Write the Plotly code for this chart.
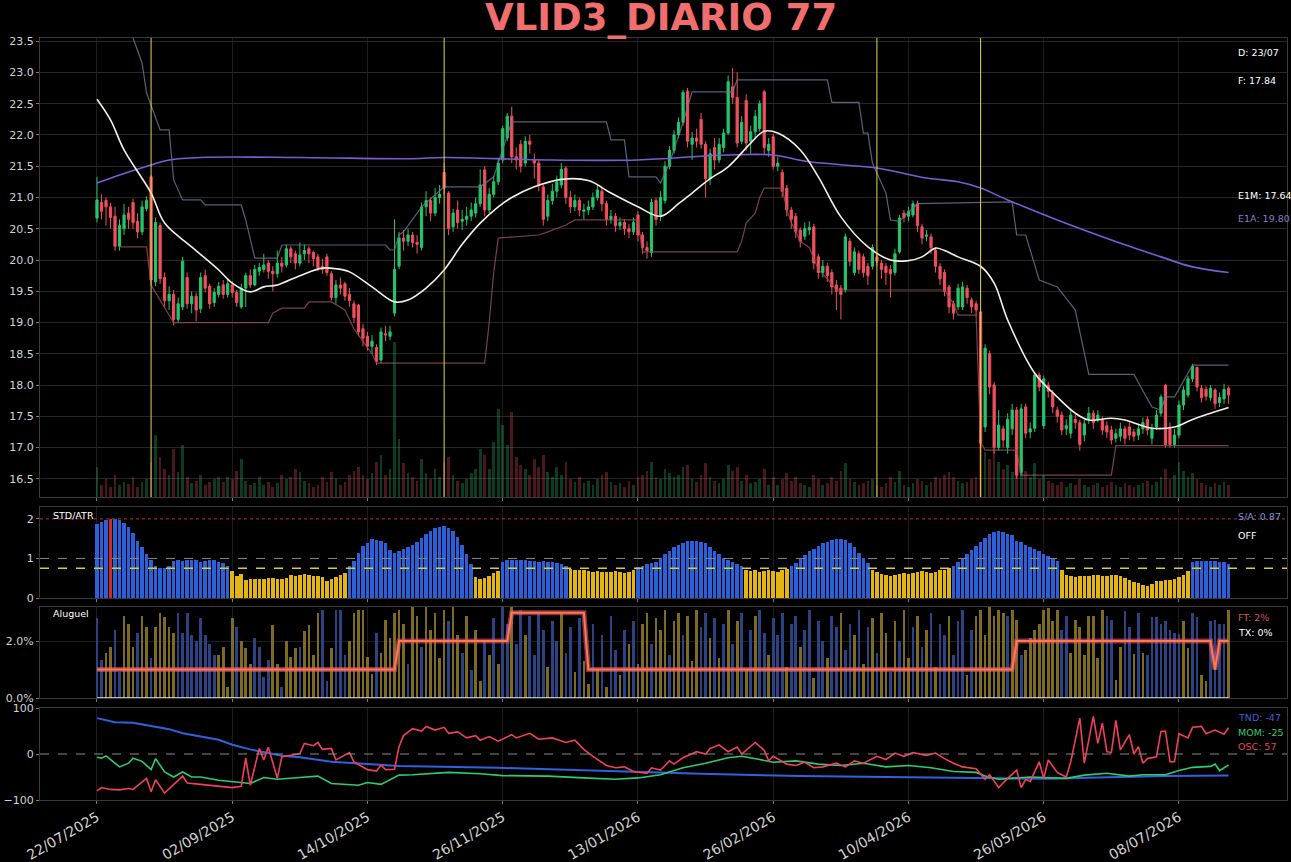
import plotly.graph_objects as go

# ---------------- DATA ----------------
tick_idx = [0, 30, 60, 90, 120, 150, 180, 210, 240]
tick_dates = ["22/07/2025", "02/09/2025", "14/10/2025", "26/11/2025", "13/01/2026",
              "26/02/2026", "10/04/2026", "26/05/2026", "08/07/2026"]

opens = [
    20.67, 20.92, 20.95, 20.85, 20.70, 20.22, 20.50, 20.75, 20.92, 20.62,
    20.45, 20.82, 21.33, 19.65, 20.55, 19.72, 19.35, 19.45, 19.05, 19.25,
    19.72, 19.30, 19.42, 19.22, 19.75, 19.58, 19.32, 19.45, 19.60, 19.45,
    19.60, 19.48, 19.25, 19.55, 19.75, 19.60, 19.82, 19.85, 19.95, 19.82,
    19.78, 19.95, 19.92, 20.18, 20.10, 19.95, 20.10, 20.18, 20.12, 20.05,
    19.90, 20.05, 19.78, 19.40, 19.60, 19.62, 19.45, 19.30, 19.28, 18.90,
    18.78, 18.62, 18.60, 18.40, 18.82, 18.78, 19.15, 19.90, 20.35, 20.30,
    20.40, 20.28, 20.20, 20.85, 20.95, 20.75, 21.00, 21.40, 21.07, 20.53,
    20.80, 20.62, 20.65, 20.70, 20.75, 20.90, 21.44, 20.80, 21.05, 21.25,
    21.60, 21.95, 22.30, 21.65, 21.85, 21.55, 21.90, 21.60, 21.55, 21.17,
    20.70, 20.95, 21.10, 21.20, 21.47, 21.00, 20.85, 20.95, 20.78, 20.80,
    20.85, 21.00, 21.10, 20.90, 20.65, 20.70, 20.55, 20.60, 20.50, 20.45,
    20.72, 20.40, 20.20, 20.12, 20.95, 20.70, 20.95, 21.50, 21.75, 22.00,
    22.20, 22.70, 21.85, 21.95, 22.25, 21.85, 21.30, 21.80, 21.60, 21.80,
    22.03, 22.77, 22.60, 21.90, 22.55, 21.90, 22.05, 22.10, 22.69, 21.75,
    21.97, 21.50, 21.40, 21.15, 20.80, 20.70, 20.48, 20.38, 20.48, 20.53,
    20.05, 19.80, 19.90, 19.80, 19.60, 19.55, 19.52, 20.30, 19.80, 20.10,
    20.05, 19.90, 19.90, 20.05, 19.95, 19.90, 19.85, 19.80, 20.13, 20.75,
    20.70, 20.72, 20.90, 20.53, 20.38, 20.37, 20.16, 19.90, 19.80, 19.57,
    19.30, 19.25, 19.25, 19.55, 19.36, 19.30, 19.17, 17.33, 18.50, 18.00,
    17.00, 17.30, 17.00, 17.30, 17.60, 16.60, 17.65, 17.25, 17.31, 18.16,
    17.35, 18.00, 17.87, 17.60, 17.52, 17.30, 17.23, 17.45, 17.40, 17.20,
    17.45, 17.55, 17.45, 17.44, 17.35, 17.28, 17.15, 17.18, 17.30, 17.33,
    17.25, 17.20, 17.30, 17.45, 17.15, 17.33, 17.55, 18.00, 17.30, 17.05,
    17.20, 17.68, 17.84, 18.10, 18.28, 17.95, 17.93, 17.80, 17.92, 17.72,
    17.78, 17.95]

closes = [
    20.96, 20.78, 20.85, 20.68, 20.22, 20.55, 20.72, 20.65, 20.60, 20.45,
    20.85, 20.95, 19.68, 20.60, 19.70, 19.35, 19.45, 19.05, 19.30, 19.98,
    19.30, 19.42, 19.20, 19.72, 19.55, 19.30, 19.48, 19.58, 19.45, 19.62,
    19.48, 19.32, 19.55, 19.75, 19.60, 19.85, 19.88, 19.92, 19.82, 19.78,
    19.95, 19.90, 20.18, 20.05, 19.95, 20.08, 20.15, 20.10, 20.02, 19.88,
    19.85, 19.80, 19.40, 19.60, 19.55, 19.42, 19.35, 19.08, 18.85, 18.75,
    18.62, 18.70, 18.38, 18.85, 18.80, 18.85, 19.85, 20.35, 20.30, 20.40,
    20.28, 20.25, 20.85, 20.95, 20.75, 21.00, 21.05, 21.15, 20.50, 20.75,
    20.60, 20.65, 20.70, 20.80, 20.90, 21.20, 20.80, 21.05, 21.25, 21.55,
    22.10, 22.30, 21.65, 21.60, 21.50, 21.90, 21.85, 21.55, 21.20, 20.65,
    20.95, 21.10, 21.25, 21.45, 21.00, 20.85, 20.95, 20.80, 20.80, 20.85,
    21.00, 21.12, 20.90, 20.65, 20.70, 20.55, 20.60, 20.50, 20.45, 20.60,
    20.40, 20.20, 20.15, 20.92, 20.65, 21.00, 21.50, 21.75, 22.00, 22.20,
    22.68, 21.90, 21.95, 21.90, 21.85, 21.30, 21.70, 21.60, 21.85, 22.03,
    22.85, 22.60, 21.87, 22.20, 21.87, 22.05, 22.30, 22.50, 21.80, 21.85,
    21.50, 21.55, 21.10, 20.80, 20.65, 20.45, 20.30, 20.50, 20.52, 19.95,
    19.80, 19.90, 19.75, 19.57, 19.50, 19.45, 20.37, 19.98, 20.13, 19.85,
    19.80, 19.75, 20.20, 19.98, 19.85, 19.80, 19.78, 20.10, 20.67, 20.68,
    20.78, 20.90, 20.55, 20.35, 20.40, 20.20, 19.90, 19.70, 19.50, 19.25,
    19.15, 19.55, 19.57, 19.40, 19.25, 19.20, 17.07, 18.59, 17.97, 17.00,
    17.36, 17.12, 17.45, 17.60, 16.56, 17.62, 17.23, 17.30, 18.16, 17.97,
    18.10, 17.90, 17.65, 17.50, 17.28, 17.35, 17.52, 17.40, 17.05, 17.38,
    17.55, 17.40, 17.52, 17.28, 17.25, 17.12, 17.22, 17.30, 17.15, 17.20,
    17.18, 17.30, 17.40, 17.28, 17.30, 17.52, 17.81, 17.05, 17.05, 17.20,
    17.68, 17.92, 18.10, 18.30, 17.97, 17.80, 17.82, 17.95, 17.70, 17.80,
    17.93, 17.84]

highs = [
    21.33, 21.05, 21.00, 20.92, 20.85, 20.65, 20.90, 20.85, 20.98, 20.75,
    20.95, 21.02, 21.36, 20.68, 20.60, 19.80, 19.58, 19.52, 19.40, 20.05,
    19.80, 19.50, 19.48, 19.80, 19.85, 19.62, 19.55, 19.65, 19.68, 19.70,
    19.66, 19.52, 19.62, 19.80, 19.85, 19.92, 19.95, 20.10, 20.00, 19.90,
    20.15, 20.05, 20.25, 20.22, 20.15, 20.28, 20.25, 20.22, 20.15, 20.10,
    20.02, 20.10, 19.82, 19.68, 19.72, 19.65, 19.55, 19.35, 19.30, 18.98,
    18.85, 18.80, 18.65, 18.92, 18.95, 18.95, 20.65, 20.45, 20.48, 20.50,
    20.45, 20.40, 20.92, 21.10, 21.00, 21.15, 21.20, 21.55, 21.10, 20.82,
    20.95, 20.80, 20.85, 20.92, 21.00, 21.45, 21.50, 21.15, 21.35, 21.62,
    22.15, 22.35, 22.45, 21.80, 21.92, 21.98, 22.00, 21.70, 21.60, 21.20,
    21.05, 21.22, 21.35, 21.55, 21.50, 21.10, 21.05, 21.00, 20.90, 20.95,
    21.08, 21.20, 21.15, 20.95, 20.80, 20.75, 20.68, 20.65, 20.58, 20.68,
    20.78, 20.45, 20.30, 20.98, 21.00, 21.10, 21.58, 21.82, 22.08, 22.28,
    22.72, 22.75, 22.05, 22.10, 22.35, 21.90, 21.78, 21.95, 21.95, 22.10,
    22.95, 23.07, 23.00, 22.30, 22.65, 22.15, 22.40, 22.55, 22.72, 21.95,
    22.02, 21.65, 21.45, 21.20, 20.85, 20.75, 20.52, 20.60, 20.62, 20.58,
    20.10, 20.00, 19.95, 19.85, 19.68, 19.60, 20.42, 20.35, 20.20, 20.15,
    20.10, 19.95, 20.25, 20.10, 20.00, 19.95, 19.92, 20.18, 20.72, 20.80,
    20.85, 20.95, 20.95, 20.58, 20.48, 20.42, 20.20, 19.95, 19.85, 19.60,
    19.35, 19.62, 19.65, 19.60, 19.40, 19.35, 19.20, 18.65, 18.55, 18.05,
    17.60, 17.35, 17.55, 17.70, 17.65, 17.70, 17.70, 17.40, 18.20, 18.20,
    18.15, 18.05, 17.92, 17.65, 17.58, 17.45, 17.60, 17.55, 17.45, 17.45,
    17.65, 17.60, 17.60, 17.50, 17.42, 17.35, 17.30, 17.40, 17.35, 17.40,
    17.30, 17.38, 17.48, 17.50, 17.38, 17.60, 17.85, 18.02, 17.40, 17.30,
    17.75, 17.98, 18.15, 18.34, 18.30, 18.00, 17.98, 18.00, 17.95, 17.88,
    18.02, 17.98]

lows = [
    20.60, 20.65, 20.55, 20.50, 20.15, 20.15, 20.40, 20.50, 20.50, 20.35,
    20.40, 20.78, 19.60, 19.58, 19.62, 19.25, 19.20, 18.95, 19.00, 19.20,
    19.22, 19.15, 19.02, 19.15, 19.48, 19.22, 19.25, 19.40, 19.38, 19.40,
    19.40, 19.25, 19.22, 19.25, 19.55, 19.58, 19.75, 19.80, 19.70, 19.50,
    19.72, 19.80, 19.88, 19.95, 19.85, 19.90, 20.00, 19.95, 19.90, 19.82,
    19.78, 19.75, 19.35, 19.30, 19.45, 19.35, 19.25, 19.00, 18.78, 18.62,
    18.55, 18.50, 18.32, 18.35, 18.70, 18.72, 19.10, 19.85, 20.15, 20.22,
    20.20, 20.10, 20.15, 20.70, 20.62, 20.70, 20.90, 21.05, 20.40, 20.45,
    20.50, 20.48, 20.55, 20.62, 20.68, 20.85, 20.70, 20.75, 21.00, 21.20,
    21.55, 21.90, 21.55, 21.45, 21.40, 21.50, 21.70, 21.30, 21.10, 20.55,
    20.62, 20.88, 21.00, 21.15, 20.90, 20.75, 20.78, 20.70, 20.65, 20.72,
    20.80, 20.95, 20.78, 20.55, 20.58, 20.45, 20.48, 20.40, 20.35, 20.40,
    20.30, 20.10, 20.02, 20.05, 20.55, 20.62, 20.90, 21.45, 21.70, 21.95,
    22.15, 21.80, 21.60, 21.80, 21.78, 21.00, 21.20, 21.45, 21.55, 21.72,
    22.00, 22.50, 21.80, 21.85, 21.75, 21.70, 21.95, 22.05, 21.70, 21.65,
    21.45, 21.42, 21.00, 20.70, 20.50, 20.35, 20.20, 20.32, 20.40, 19.85,
    19.70, 19.72, 19.65, 19.45, 19.20, 19.05, 19.48, 19.90, 19.75, 19.78,
    19.72, 19.60, 19.85, 19.90, 19.70, 19.60, 19.40, 19.75, 20.10, 20.60,
    20.62, 20.68, 20.45, 20.25, 20.30, 20.10, 19.80, 19.60, 19.42, 19.15,
    19.05, 19.20, 19.20, 19.30, 19.15, 19.10, 17.00, 17.25, 17.85, 16.90,
    16.95, 17.00, 16.90, 17.20, 16.50, 16.55, 17.15, 17.15, 17.25, 17.90,
    17.30, 17.80, 17.55, 17.40, 17.20, 17.20, 17.15, 17.30, 16.95, 17.10,
    17.38, 17.30, 17.40, 17.20, 17.15, 17.05, 17.08, 17.10, 17.05, 17.12,
    17.10, 17.12, 17.22, 17.20, 17.05, 17.28, 17.50, 17.00, 17.00, 17.00,
    17.15, 17.60, 17.80, 18.05, 17.90, 17.72, 17.75, 17.75, 17.62, 17.65,
    17.70, 17.70]

volume = [
    0.30, 0.12, 0.18, 0.10, 0.22, 0.12, 0.15, 0.13, 0.20, 0.10,
    0.15, 0.18, 0.35, 0.62, 0.40, 0.28, 0.22, 0.48, 0.25, 0.52,
    0.20, 0.14, 0.16, 0.22, 0.12, 0.15, 0.18, 0.20, 0.15, 0.20,
    0.18, 0.26, 0.38, 0.16, 0.12, 0.14, 0.20, 0.12, 0.15, 0.10,
    0.14, 0.22, 0.18, 0.20, 0.28, 0.25, 0.16, 0.14, 0.10, 0.12,
    0.20, 0.15, 0.25, 0.18, 0.12, 0.15, 0.22, 0.26, 0.30, 0.22,
    0.18, 0.24, 0.35, 0.42, 0.22, 0.28, 1.55, 0.58, 0.34, 0.24,
    0.20, 0.16, 0.38, 0.24, 0.18, 0.28, 0.20, 0.35, 0.40, 0.22,
    0.16, 0.14, 0.18, 0.24, 0.28, 0.48, 0.42, 0.28, 0.55, 0.88,
    0.72, 0.52, 0.85, 0.40, 0.32, 0.28, 0.22, 0.38, 0.30, 0.42,
    0.25, 0.20, 0.30, 0.22, 0.35, 0.18, 0.15, 0.20, 0.14, 0.16,
    0.12, 0.18, 0.22, 0.25, 0.15, 0.12, 0.14, 0.10, 0.16, 0.12,
    0.20, 0.22, 0.26, 0.35, 0.20, 0.18, 0.28, 0.24, 0.20, 0.22,
    0.30, 0.32, 0.18, 0.15, 0.22, 0.34, 0.20, 0.16, 0.14, 0.18,
    0.32, 0.26, 0.30, 0.16, 0.22, 0.14, 0.15, 0.18, 0.28, 0.12,
    0.20, 0.12, 0.18, 0.24, 0.16, 0.20, 0.14, 0.12, 0.10, 0.22,
    0.18, 0.12, 0.14, 0.20, 0.16, 0.26, 0.34, 0.18, 0.15, 0.12,
    0.14, 0.16, 0.18, 0.12, 0.10, 0.14, 0.20, 0.15, 0.26, 0.12,
    0.10, 0.14, 0.18, 0.16, 0.12, 0.15, 0.20, 0.18, 0.22, 0.25,
    0.20, 0.16, 0.14, 0.15, 0.18, 0.20, 0.55, 0.45, 0.38, 0.48,
    0.35, 0.28, 0.32, 0.25, 0.42, 0.30, 0.26, 0.20, 0.34, 0.18,
    0.22, 0.16, 0.14, 0.12, 0.15, 0.10, 0.14, 0.12, 0.18, 0.12,
    0.10, 0.12, 0.14, 0.10, 0.12, 0.15, 0.12, 0.10, 0.14, 0.12,
    0.10, 0.12, 0.14, 0.16, 0.12, 0.15, 0.20, 0.28, 0.18, 0.22,
    0.35, 0.26, 0.20, 0.24, 0.18, 0.14, 0.12, 0.10, 0.14, 0.12,
    0.15, 0.12]

# signal bars (yellow vertical lines)
signal_idx = [12, 77, 173, 196]

# E1M (white) and E1A (purple) moving averages, sampled (bar, value)
e1m_pts = [(0, 22.57), (3, 22.24), (6, 21.76), (12, 21.07), (15, 20.59), (21, 20.21), (27, 19.84),
           (30, 19.63), (34, 19.49), (37, 19.57), (40, 19.60), (45, 19.75), (50, 19.87), (53, 19.86),
           (56, 19.81), (61, 19.57), (66, 19.33), (69, 19.36), (73, 19.55), (77, 19.84), (81, 20.25),
           (85, 20.59), (89, 20.85), (92, 21.00), (97, 21.17), (103, 21.29), (109, 21.27), (114, 21.07),
           (120, 20.85), (125, 20.70), (129, 20.90), (132, 21.07), (136, 21.30), (140, 21.49),
           (145, 21.87), (148, 22.06), (151, 22.03), (156, 21.76), (160, 21.33), (165, 20.69),
           (171, 20.21), (176, 20.00), (180, 19.99), (183, 20.05), (186, 20.19), (188, 20.15),
           (191, 20.05), (196, 19.90), (199, 19.63), (202, 19.04), (208, 18.19), (213, 17.81),
           (217, 17.55), (220, 17.44), (225, 17.47), (228, 17.44), (234, 17.31), (239, 17.33),
           (243, 17.45), (251, 17.64)]
e1a_pts = [(0, 21.23), (5, 21.36), (12, 21.52), (16, 21.60), (23, 21.64), (45, 21.64), (70, 21.62),
           (77, 21.64), (100, 21.60), (120, 21.60), (134, 21.66), (140, 21.68), (150, 21.68),
           (158, 21.57), (173, 21.47), (184, 21.31), (191, 21.25), (196, 21.15), (202, 20.96),
           (213, 20.64), (225, 20.32), (236, 20.05), (243, 19.89), (251, 19.80)]

# channel lines (upper / lower)
hi_pts = [(7, 24.2), (8, 23.55), (10, 23.15), (11, 22.67), (14, 22.08), (16, 22.08), (17, 21.28),
          (19, 20.96), (23, 20.96), (24, 20.88), (32, 20.88), (33, 20.64), (35, 20.03), (40, 20.03),
          (41, 20.24), (64, 20.24), (65, 20.16), (66, 20.16), (67, 20.40), (68, 20.45), (72, 20.85),
          (77, 21.17), (85, 21.17), (88, 21.33), (92, 22.21), (113, 22.21), (114, 21.92), (117, 21.92),
          (118, 21.33), (124, 21.33), (125, 21.23), (127, 21.55), (130, 22.20), (132, 22.69),
          (141, 22.69), (142, 22.88), (162, 22.88), (163, 22.52), (169, 22.52), (170, 22.03),
          (171, 22.03), (172, 21.55), (175, 21.07), (176, 20.64), (178, 20.62), (179, 20.69),
          (182, 20.90), (203, 20.93), (204, 20.40), (206, 20.40), (209, 19.68), (213, 19.57),
          (217, 19.20), (220, 18.17), (230, 18.17), (234, 17.65), (236, 17.60), (237, 17.81),
          (239, 17.81), (243, 18.32), (251, 18.32)]
lo_pts = [(5, 20.21), (11, 20.21), (12, 19.60), (15, 19.25), (17, 19.00), (38, 19.00), (39, 19.15),
          (41, 19.23), (46, 19.23), (47, 19.33), (52, 19.33), (55, 19.20), (57, 18.90), (59, 18.70),
          (61, 18.50), (62, 18.35), (86, 18.35), (87, 19.00), (88, 19.80), (89, 20.35), (98, 20.40),
          (100, 20.45), (104, 20.56), (106, 20.64), (120, 20.64), (121, 20.13), (142, 20.13),
          (143, 20.30), (144, 20.59), (146, 20.75), (147, 21.00), (148, 21.15), (152, 21.15),
          (153, 20.80), (154, 20.60), (156, 20.30), (158, 20.20), (160, 19.85), (162, 19.70),
          (164, 19.52), (188, 19.52), (190, 19.30), (191, 19.12), (195, 19.12), (196, 17.09),
          (197, 16.96), (204, 16.96), (205, 16.56), (225, 16.56), (226, 17.03), (251, 17.03)]

# STD/ATR panel
std_vals = [
    1.88, 1.92, 1.97, 2.00, 2.00, 1.97, 1.90, 1.80, 1.65, 1.45,
    1.30, 1.12, 0.95, 0.82, 0.76, 0.75, 0.82, 0.93, 0.95, 0.93,
    0.95, 0.96, 0.95, 0.90, 0.93, 0.96, 0.95, 0.92, 0.88, 0.80,
    0.68, 0.55, 0.60, 0.46, 0.48, 0.48, 0.49, 0.48, 0.50, 0.50,
    0.48, 0.48, 0.50, 0.58, 0.56, 0.58, 0.60, 0.58, 0.55, 0.55,
    0.53, 0.42, 0.48, 0.53, 0.57, 0.62,
    0.80, 0.93, 1.14, 1.31, 1.39, 1.49, 1.47, 1.45, 1.38, 1.22,
    1.15, 1.20, 1.25, 1.30, 1.35, 1.42, 1.52, 1.62, 1.70, 1.76,
    1.80, 1.82, 1.78, 1.70, 1.55, 1.35, 1.10, 0.85,
    0.52, 0.48, 0.50, 0.55, 0.62, 0.68,
    0.92, 0.95, 0.96, 0.96, 0.95, 0.95, 0.94, 0.93, 0.92, 0.93, 0.92, 0.90, 0.88, 0.85, 0.80,
    0.74, 0.72, 0.70, 0.70, 0.68, 0.66, 0.68, 0.66, 0.65, 0.66, 0.68, 0.66, 0.64, 0.66, 0.70,
    0.78, 0.82, 0.85, 0.88, 0.92, 1.00, 1.10, 1.20, 1.28, 1.35, 1.40, 1.43, 1.45, 1.44, 1.42,
    1.38, 1.30, 1.20, 1.10, 1.00, 0.95, 0.90, 0.85, 0.80,
    0.72, 0.68, 0.70, 0.66, 0.68, 0.70, 0.68, 0.66, 0.70, 0.74,
    0.80, 0.88, 0.98, 1.08, 1.18, 1.25, 1.32, 1.38, 1.42, 1.46, 1.48, 1.50, 1.47, 1.40, 1.30,
    1.15, 1.00, 0.88,
    0.72, 0.66, 0.60, 0.58, 0.55, 0.58, 0.60, 0.62, 0.60, 0.62, 0.65, 0.68, 0.66, 0.64, 0.66,
    0.70, 0.72, 0.75,
    0.82, 0.92, 1.02, 1.12, 1.22, 1.32, 1.42, 1.52, 1.62, 1.68, 1.69, 1.68, 1.63, 1.58, 1.45,
    1.42, 1.35, 1.30, 1.25, 1.20, 1.12, 1.05, 0.98, 0.93,
    0.72, 0.59, 0.55, 0.53, 0.55, 0.56, 0.56, 0.58, 0.59, 0.56, 0.55, 0.58, 0.58, 0.56, 0.50,
    0.45, 0.40, 0.38, 0.34, 0.31, 0.36, 0.42, 0.44, 0.46, 0.46, 0.48, 0.52, 0.59, 0.67,
    0.91, 0.93, 0.93, 0.93, 0.93, 0.93, 0.91, 0.90, 0.87]
# regime of each STD/ATR bar: (state, run length)
std_runs = [("b", 3), ("r", 1), ("b", 26), ("y", 26), ("b", 28), ("y", 6), ("b", 15), ("y", 15),
            ("b", 24), ("y", 10), ("b", 18), ("y", 18), ("b", 24), ("y", 29), ("b", 9)]
std_levels = [2.0, 1.0, 0.75]

# Aluguel panel (percent)
alu_vals = [
    2.8, 1.35, 1.6, 1.8, 2.4, 0.9, 2.9, 2.6, 1.8, 2.3,
    2.9, 2.5, 1.4, 2.5, 3.0, 2.85, 2.5, 2.3, 3.0, 2.3,
    3.0, 2.2, 2.0, 2.8, 2.2, 1.9, 1.5, 1.5, 1.8, 0.4,
    2.8, 2.5, 2.0, 1.75, 1.2, 2.1, 1.8, 0.75, 1.35, 2.55,
    1.2, 0.4, 2.0, 1.45, 1.75, 1.8, 2.35, 2.55, 1.5, 3.0,
    3.1, 0.6, 1.75, 3.1, 3.1, 1.5, 2.0, 3.0, 3.1, 3.1,
    1.45, 0.85, 2.3, 1.6, 2.75, 2.1, 3.0,
    3.1, 2.6, 1.2, 3.2, 2.9, 1.8, 3.2, 2.4, 3.0, 1.4, 3.1, 2.7, 3.2, 2.2, 1.6, 2.9,
    1.0, 2.4, 0.6, 2.0, 1.5, 2.8, 1.2,
    3.2, 2.6, 3.2, 1.9, 3.1, 2.2, 2.9, 1.5, 3.0, 2.4, 1.1, 2.7, 2.0, 3.0,
    1.6, 2.5, 0.9, 2.8, 1.3, 0.5, 2.6, 1.0, 2.2, 0.4, 2.9, 1.7, 0.8, 2.4, 1.9, 2.7, 1.2,
    2.6, 3.0, 1.9, 2.8, 2.4, 3.1, 1.5, 2.7, 3.0, 2.2, 2.9, 1.3, 3.1, 2.5,
    3.0, 2.1, 2.8, 1.4, 2.6, 3.1, 1.9, 2.7, 3.0, 1.0, 2.4, 2.9,
    3.1, 2.3, 1.5, 2.8, 2.2, 3.0, 1.1, 2.6, 2.9, 1.8, 2.4, 3.1, 0.7, 2.7, 2.0, 1.4, 2.9, 2.5,
    3.0, 1.7, 2.6, 2.2, 3.1, 1.2, 2.5,
    2.8, 1.6, 3.0, 2.3, 0.9, 2.7, 2.0, 3.1, 1.4, 2.5, 2.9, 1.8, 2.4, 3.0, 1.1, 2.6, 2.2, 2.9,
    1.5, 2.7, 3.1, 0.8, 2.4, 2.9, 3.1, 2.2, 3.2, 2.9,
    3.1, 3.0, 2.9, 3.1, 2.75, 1.5, 1.7, 2.1, 2.4, 2.6, 3.1, 3.15, 2.7, 3.1,
    2.4, 2.9, 1.6, 2.75, 2.5, 1.5, 2.9, 2.9, 1.4, 3.1,
    2.9, 2.75, 0.65, 1.8, 3.05, 2.5, 1.55, 3.0, 1.6, 1.5,
    2.85, 2.85, 2.6, 2.7, 2.4, 2.3, 2.25, 2.7, 1.75, 3.0,
    2.85, 0.8, 0.6, 2.7, 2.75, 2.6, 2.6, 3.1]
alu_kind = ("bbyybbyyyb" "yybyyyyybb" "bbbbbbbyyy" "ybyyybbbby" "ybyyybyyyy" "bbybbbyyyy" "yybyyyy"
            "yybyybyyyyybyyby" "byybyby" "bbybbybbbbybby" "bbybyybybybbybyby" "yybyyybyybyyyb"
            "bybybybybyby" "bbybbbybbybbybbybbybbybyb" "ybyybybyybybybybbybbbybyyyyy"
            "yybyybyyyyyyyy" "bbyyyyyyyy" "bbyybbybyb" "bbbbbbbyyb" "byybbbby")
ft_runs = [(1.0, 67), (2.0, 25), (3.0, 17), (1.0, 95), (2.0, 44), (1.0, 1), (2.0, 3)]
tx_pts = [(0, 0.0), (251, 0.0)]

# lower oscillator panel
tnd_pts = [(0, 78), (4, 69), (8, 68), (12, 61), (16, 54), (19, 45), (23, 38), (27, 31), (30, 20),
           (34, 10), (38, 2), (41, -4), (45, -7), (49, -12), (52, -17), (60, -22), (67, -26),
           (89, -30), (105, -35), (120, -40), (134, -43), (156, -48), (178, -50), (200, -53),
           (211, -54), (222, -51), (237, -48), (251, -47)]
mom_pts = [(0, -7), (1, -9), (2, -4), (3, -12), (5, -28), (7, -20), (8, -9), (10, -16), (11, -24),
           (12, -34), (13, -10), (15, -39), (17, -50), (19, -39), (21, -50), (23, -50), (27, -57),
           (30, -60), (34, -64), (37, -51), (40, -55), (45, -51), (49, -48), (52, -64), (58, -68),
           (60, -62), (63, -66), (67, -46), (70, -45), (78, -40), (85, -43), (90, -47), (100, -48),
           (108, -52), (115, -55), (120, -52), (125, -45), (130, -30), (135, -20), (140, -8),
           (143, -5), (147, -12), (150, -18), (155, -15), (160, -22), (165, -25), (170, -20),
           (175, -28), (180, -25), (185, -30), (190, -38), (195, -40), (197, -48), (200, -55),
           (207, -50), (215, -53), (219, -46), (224, -42), (229, -48), (232, -45), (237, -45),
           (240, -36), (243, -29), (247, -27), (248, -22), (249, -36), (251, -24)]
osc_pts = [(0, -80), (1, -73), (3, -77), (5, -78), (7, -75), (8, -77), (11, -53), (12, -82), (13, -56),
           (15, -85), (19, -48), (20, -63), (23, -66), (27, -70), (30, -73), (32, -70), (33, -9),
           (34, -68), (36, 12), (37, -13), (38, 15), (40, -53), (41, -6), (43, -3), (45, 1), (46, 23),
           (48, 18), (49, 25), (50, 10), (52, 12), (53, -13), (56, 3), (57, -17), (60, -34), (62, -37),
           (63, -24), (64, -34), (66, -33), (67, 16), (68, 40), (70, 55), (72, 50), (73, 60), (75, 52),
           (77, 58), (78, 45), (80, 48), (82, 35), (84, 40), (85, 30), (87, 38), (89, 28), (92, 42),
           (93, 35), (96, 45), (98, 32), (101, 35), (104, 25), (106, 30), (108, 10), (110, -5),
           (113, -25), (115, -30), (117, -28), (119, -38), (122, -42), (123, -30), (125, -35),
           (127, -15), (128, -22), (130, -8), (133, 5), (135, 0), (136, 12), (138, 20), (140, 5),
           (142, 15), (143, 0), (145, 18), (146, 25), (148, 8), (149, -15), (150, -5), (153, -22),
           (155, -25), (157, -18), (159, -30), (161, -28), (164, -20), (166, -28), (168, -15),
           (170, -20), (173, -5), (175, -12), (177, 2), (179, -5), (181, 3), (184, -3), (186, 2),
           (188, -10), (190, -20), (192, -28), (195, -32), (197, -55), (198, -45), (200, -73),
           (202, -53), (204, -35), (205, -73), (206, -55), (207, -60), (209, -17), (210, -53),
           (211, -13), (213, -40), (215, -50), (216, -17), (218, 78), (219, -20), (221, 82),
           (222, 23), (223, 67), (224, 5), (225, 3), (226, 73), (227, 9), (229, 42), (230, 0),
           (231, 16), (232, -20), (233, -10), (235, -6), (236, 49), (237, 50), (238, -17), (239, -17),
           (240, 44), (242, 35), (243, 58), (245, 60), (246, 44), (248, 52), (250, 43), (251, 57)]

N = len(closes)
assert len(opens) == N and len(highs) == N and len(lows) == N and len(volume) == N
assert len(std_vals) == N
assert len(alu_vals) == N and len(alu_kind) == N

idx = list(range(N))

# ---------------- STYLE ----------------
FONT = "DejaVu Sans"
GREEN = "#27c56c"
RED = "#f0505c"
GRID = "#262626"
VGRID = "#1c1c1c"
FRAME = "#3a3a3a"
TICKC = "#d2d2d2"


def unzip(pts):
    return [p[0] for p in pts], [p[1] for p in pts]


def expand(runs):
    out = []
    for v, n in runs:
        out.extend([v] * n)
    return out


fig = go.Figure()

# volume (overlay axis)
vol_colors = ["rgba(39,197,108,0.30)" if c >= o else "rgba(240,80,92,0.30)" for o, c in zip(opens, closes)]
fig.add_trace(go.Bar(x=idx, y=volume, marker=dict(color=vol_colors, line=dict(width=0)), width=0.6,
                     xaxis="x", yaxis="y5", hoverinfo="skip"))

# channels
hx, hy = unzip(hi_pts)
fig.add_trace(go.Scatter(x=hx, y=hy, mode="lines", line=dict(color="rgba(105,122,150,0.8)", width=1.2),
                         xaxis="x", yaxis="y", hoverinfo="skip"))
lx, ly = unzip(lo_pts)
fig.add_trace(go.Scatter(x=lx, y=ly, mode="lines", line=dict(color="rgba(150,80,92,0.8)", width=1.2),
                         xaxis="x", yaxis="y", hoverinfo="skip"))

# candles
fig.add_trace(go.Candlestick(
    x=idx, open=opens, high=highs, low=lows, close=closes,
    increasing=dict(line=dict(color=GREEN, width=1), fillcolor=GREEN),
    decreasing=dict(line=dict(color=RED, width=1), fillcolor=RED),
    whiskerwidth=0, xaxis="x", yaxis="y", hoverinfo="skip"))

# moving averages
ax_, ay_ = unzip(e1a_pts)
fig.add_trace(go.Scatter(x=ax_, y=ay_, mode="lines", line=dict(color="#7a5cd6", width=1.6, shape="spline"),
                         xaxis="x", yaxis="y", hoverinfo="skip"))
mx_, my_ = unzip(e1m_pts)
fig.add_trace(go.Scatter(x=mx_, y=my_, mode="lines", line=dict(color="#f2f0e4", width=1.6, shape="spline"),
                         xaxis="x", yaxis="y", hoverinfo="skip"))

# STD/ATR bars
std_state = expand(std_runs)
std_cmap = {"b": "#2c5fd8", "y": "#e3b512", "r": "#d8262a"}
fig.add_trace(go.Bar(x=idx, y=std_vals, marker=dict(color=[std_cmap[s] for s in std_state], line=dict(width=0)),
                     width=0.78, xaxis="x2", yaxis="y2", hoverinfo="skip"))

# Aluguel bars + lines
alu_cmap = {"b": "#2b4283", "y": "#7c6b21"}
fig.add_trace(go.Bar(x=idx, y=alu_vals, marker=dict(color=[alu_cmap[k] for k in alu_kind], line=dict(width=0)),
                     width=0.6, xaxis="x3", yaxis="y3", hoverinfo="skip"))
ft = expand(ft_runs)
fig.add_trace(go.Scatter(x=idx, y=ft, mode="lines", line=dict(color="rgba(226,80,140,0.6)", width=5),
                         xaxis="x3", yaxis="y3", hoverinfo="skip"))
fig.add_trace(go.Scatter(x=idx, y=ft, mode="lines", line=dict(color="#ff7d3c", width=2),
                         xaxis="x3", yaxis="y3", hoverinfo="skip"))
tx, ty = unzip(tx_pts)
fig.add_trace(go.Scatter(x=tx, y=ty, mode="lines", line=dict(color="#e8e8e8", width=1.5),
                         xaxis="x3", yaxis="y3", hoverinfo="skip"))

# oscillators
for pts, col, w in [(tnd_pts, "#2f62e0", 2.0), (mom_pts, "#2ecc71", 1.6), (osc_pts, "#f0405a", 1.6)]:
    px_, py_ = unzip(pts)
    fig.add_trace(go.Scatter(x=px_, y=py_, mode="lines", line=dict(color=col, width=w),
                             xaxis="x4", yaxis="y4", hoverinfo="skip"))

# ---------------- SHAPES ----------------
shapes = []
for s in signal_idx:
    shapes.append(dict(type="line", xref="x", yref="y domain", x0=s, x1=s, y0=0, y1=1,
                       line=dict(color="#e6d54c", width=1)))
std_line_styles = [dict(color="#9a2236", width=1.2, dash="dot"),
                   dict(color="#8a8a8a", width=1, dash="dash"),
                   dict(color="#dccb2c", width=1.5, dash="dash")]
for lvl, st in zip(std_levels, std_line_styles):
    shapes.append(dict(type="line", xref="x2 domain", yref="y2", x0=0, x1=1, y0=lvl, y1=lvl, line=st))
shapes.append(dict(type="line", xref="x4 domain", yref="y4", x0=0, x1=1, y0=0, y1=0,
                   line=dict(color="#8a8a8a", width=1, dash="dash")))

# ---------------- LAYOUT ----------------
W, H = 1291, 862
L, R, T, B = 40, 4, 38, 62
plot_h = H - T - B


def dom(top_px, bot_px):
    return [(H - B - bot_px) / plot_h, (H - B - top_px) / plot_h]


XR = [-12.64, 263.96]
tickfont = dict(family=FONT, size=11, color=TICKC)
base_x = dict(range=XR, tickvals=tick_idx, showgrid=True, gridcolor=VGRID, gridwidth=1, zeroline=False,
              showline=True, linecolor=FRAME, mirror=True, ticks="outside", ticklen=3, tickcolor="#777",
              automargin=False)
base_y = dict(showline=True, linecolor=FRAME, mirror=True, zeroline=False, ticks="outside", ticklen=3,
              tickcolor="#777", tickfont=tickfont, automargin=False)

layout = dict(
    width=W, height=H, margin=dict(l=L, r=R, t=T, b=B, autoexpand=False),
    paper_bgcolor="#000000", plot_bgcolor="#000000", showlegend=False, bargap=0,
    hovermode=False,
    xaxis=dict(**base_x, anchor="y", showticklabels=False, rangeslider=dict(visible=False)),
    xaxis2=dict(**base_x, anchor="y2", matches="x", showticklabels=False),
    xaxis3=dict(**base_x, anchor="y3", matches="x", showticklabels=False),
    xaxis4=dict(**base_x, anchor="y4", matches="x", ticktext=tick_dates, tickangle=-30,
                tickfont=dict(family=FONT, size=14, color=TICKC)),
    yaxis=dict(**base_y, domain=dom(38, 497), range=[16.21, 23.55], tick0=16.5, dtick=0.5,
               tickformat=".1f", showgrid=True, gridcolor=GRID),
    yaxis5=dict(overlaying="y", range=[0, 4.6], visible=False),
    yaxis2=dict(**base_y, domain=dom(507, 598), range=[0, 2.3], tickvals=[0, 1, 2], showgrid=False),
    yaxis3=dict(**base_y, domain=dom(607, 698), range=[0, 3.2], tickvals=[0, 2], ticktext=["0.0%", "2.0%"],
                showgrid=True, gridcolor="#1e1e1e"),
    yaxis4=dict(**base_y, domain=dom(708, 800), range=[-100, 100], tickvals=[-100, 0, 100], showgrid=False),
    shapes=shapes,
)
fig.update_layout(**layout)


def px_x(px):
    return (px - L) / (W - L - R)


def px_y(py):
    return (H - B - py) / plot_h


ann = []


def label(text, x, y, color, size=9.5, xanchor="left"):
    ann.append(dict(text=text, x=px_x(x), y=px_y(y), xref="paper", yref="paper", showarrow=False,
                    xanchor=xanchor, yanchor="middle", font=dict(family=FONT, size=size, color=color)))


label("D: 23/07", 1236, 53, "#ffffff")
label("F: 17.84", 1236, 80, "#ffffff")
label("E1M: 17.64", 1236, 195, "#ffffff")
label("E1A: 19.80", 1236, 218, "#8a7cc8")
label("STD/ATR", 51, 515, "#ffffff")
label("S/A: 0.87", 1236, 516, "#7f95d6")
label("OFF", 1236, 535, "#ffffff")
label("Aluguel", 51, 613, "#ffffff")
label("FT: 2%", 1236, 617, "#d8506a")
label("TX: 0%", 1236, 632, "#ffffff")
label("TND: -47", 1236, 717, "#3a5fd8")
label("MOM: -25", 1236, 732, "#2ecc71")
label("OSC: 57", 1236, 746, "#e04560")
ann.append(dict(text="<b>VLID3_DIARIO 77</b>", x=px_x(661), y=px_y(18), xref="paper", yref="paper",
                showarrow=False, xanchor="center", yanchor="middle",
                font=dict(family=FONT, size=37, color="#f06e6e")))
fig.update_layout(annotations=ann)

fig.write_html("out.html", post_script="document.body.style.margin='0';")
